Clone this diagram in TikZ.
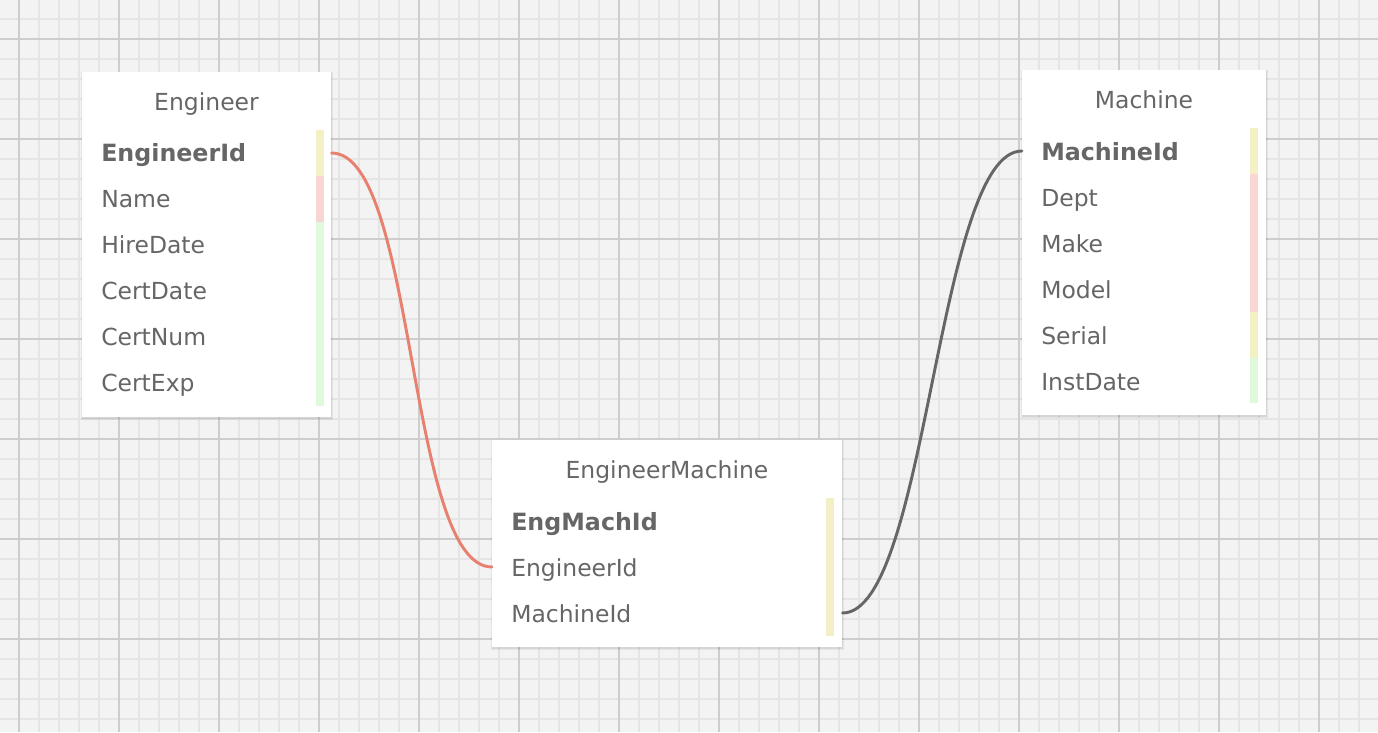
\documentclass[tikz,border=0pt]{standalone}
\usepackage{fontspec}
\setmainfont{DejaVu Sans}
\definecolor{bgc}{HTML}{F3F3F3}
\definecolor{minorc}{HTML}{E5E5E5}
\definecolor{majorc}{HTML}{CDCDCD}
\definecolor{txt}{HTML}{666666}
\definecolor{barY}{HTML}{F3F0C6}
\definecolor{barR}{HTML}{F8D6D3}
\definecolor{barG}{HTML}{DFFADA}
\definecolor{relR}{HTML}{E8806F}
\definecolor{relG}{HTML}{666666}
\tikzset{
  x=0.75pt, y=-0.75pt,
  tbl/.style={draw=none, fill=white, inner sep=0pt, anchor=north west},
  ttl/.style={text=txt, font=\fontsize{17.6}{20}\selectfont, anchor=base, inner sep=0pt},
  fld/.style={text=txt, font=\fontsize{17.6}{20}\selectfont, anchor=base west, inner sep=0pt},
  pk/.style={fld, font=\fontsize{17.8}{20}\selectfont\bfseries},
  rel/.style={line width=2.2pt, line cap=round},
}
\newcommand{\tablebox}[5]{% name, x1, y1, x2, y2
  \fill[black, opacity=0.06] (#2-1,#3) rectangle (#4+2,#5+3);
  \fill[black, opacity=0.06] (#2,#3) rectangle (#4+1,#5+1.5);
  \node[tbl, minimum width={(#4-#2)*0.75pt}, minimum height={(#5-#3)*0.75pt}] (#1) at (#2,#3) {};
}
\begin{document}
\begin{tikzpicture}
\useasboundingbox (0,0) rectangle (1378,732);
\fill[bgc] (0,0) rectangle (1378,732);
% minor grid
\foreach \i in {0,...,69} { \draw[minorc, line width=1.1pt] (-1+20*\i,0) -- (-1+20*\i,732); }
\foreach \i in {0,...,37} { \draw[minorc, line width=1.1pt] (0,-1+20*\i) -- (1378,-1+20*\i); }
% major grid
\foreach \i in {0,...,13} { \draw[majorc, line width=1.5pt] (19+100*\i,0) -- (19+100*\i,732); }
\foreach \i in {0,...,6} { \draw[majorc, line width=1.5pt] (0,39+100*\i) -- (1378,39+100*\i); }

% Engineer table
\tablebox{eng}{82}{72}{331}{417}
\node[ttl] (engT) at (206.5,110.7) {Engineer};
\fill[barY] (316,130) rectangle (324,176);
\fill[barR] (316,176) rectangle (324,222);
\fill[barG] (316,222) rectangle (324,406);
\node[pk]  (e1) at (101,161.7) {EngineerId};
\node[fld] (e2) at (101,207.7) {Name};
\node[fld] (e3) at (101,253.7) {HireDate};
\node[fld] (e4) at (101,299.7) {CertDate};
\node[fld] (e5) at (101,345.7) {CertNum};
\node[fld] (e6) at (101,391.7) {CertExp};

% EngineerMachine table
\tablebox{em}{492}{440}{842}{647}
\node[ttl] (emT) at (667,478.3) {EngineerMachine};
\fill[barY] (826,498) rectangle (834,636);
\node[pk]  (m1) at (511,530) {EngMachId};
\node[fld] (m2) at (511,576) {EngineerId};
\node[fld] (m3) at (511,622) {MachineId};

% Machine table
\tablebox{mac}{1022}{70}{1266}{415}
\node[ttl] (macT) at (1144,108.3) {Machine};
\fill[barY] (1250,128) rectangle (1258,174);
\fill[barR] (1250,174) rectangle (1258,312);
\fill[barY] (1250,312) rectangle (1258,358);
\fill[barG] (1250,358) rectangle (1258,403);
\node[pk]  (c1) at (1041,160) {MachineId};
\node[fld] (c2) at (1041,206) {Dept};
\node[fld] (c3) at (1041,252) {Make};
\node[fld] (c4) at (1041,298) {Model};
\node[fld] (c5) at (1041,344) {Serial};
\node[fld] (c6) at (1041,390) {InstDate};

% relations
\coordinate (engR) at (eng.east |- 0,153);
\coordinate (emL)  at (em.west |- 0,567);
\coordinate (emR)  at (em.east |- 0,613);
\coordinate (macL) at (mac.west |- 0,151);
\draw[rel, relR] (engR) .. controls +(85,0) and +(-85,0) .. (emL);
\draw[rel, relG] (emR) .. controls +(85,0) and +(-85,0) .. (macL);
\end{tikzpicture}
\end{document}
